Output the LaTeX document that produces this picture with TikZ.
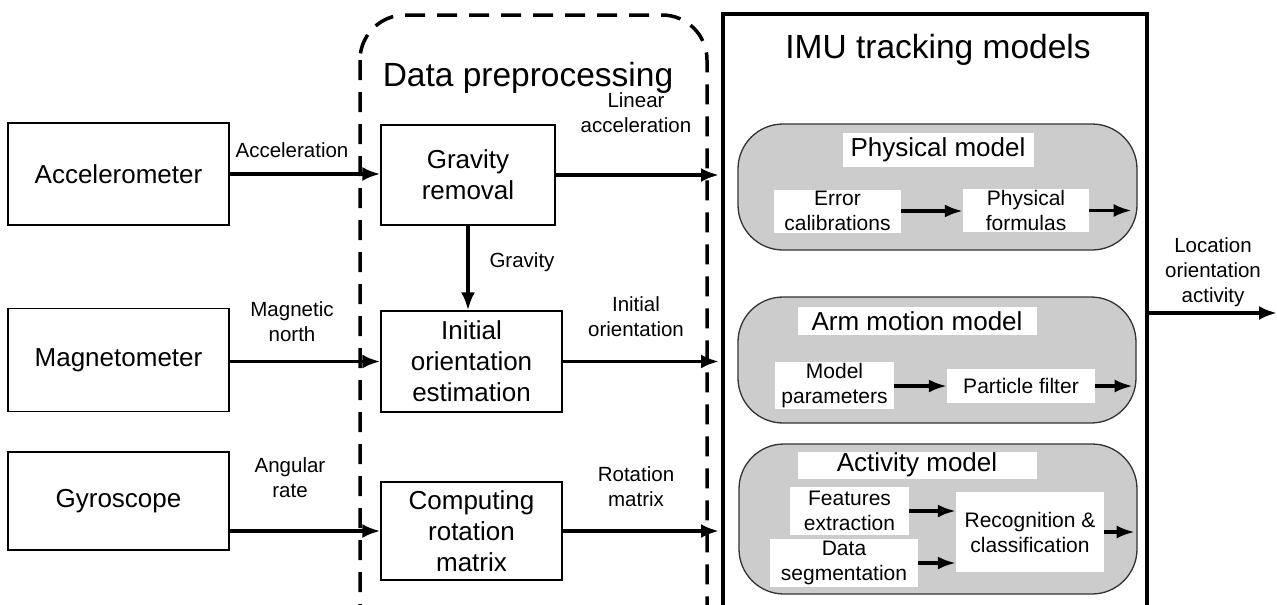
\documentclass[tikz,border=0pt]{standalone}
\usepackage{fontspec}
\setmainfont{Liberation Sans}
\usetikzlibrary{arrows.meta}
\definecolor{modelgray}{RGB}{204,204,204}
\tikzset{
  sensor/.style={draw, line width=1.3pt, fill=white, inner sep=0pt, align=center, font=\fontsize{26}{31}\selectfont},
  model/.style={draw=black!80, line width=1.3pt, fill=modelgray, rounded corners=45pt, inner sep=0pt},
  head/.style={fill=white, inner sep=0pt, font=\fontsize{26}{31}\selectfont},
  sub/.style={fill=white, inner sep=0pt, align=center, font=\fontsize{21}{25}\selectfont},
  lbl/.style={align=center, inner sep=0pt, font=\fontsize{20.5}{25}\selectfont},
  title/.style={anchor=base, inner sep=0pt, font=\fontsize{33.5}{40}\selectfont},
  arr/.style={-{Latex[length=18pt,width=14pt]}, line width=3.6pt},
  subarr/.style={-{Latex[length=18pt,width=13pt]}, line width=3.2pt}
}
\begin{document}
\begin{tikzpicture}[x=1pt, y={(0pt,-1pt)}]
  \useasboundingbox (0,0) rectangle (1277,605);
  \clip (0,0) rectangle (1277,605);
  % Preprocessing frame
  \draw[line width=3.5pt, dash pattern=on 20pt off 12pt, rounded corners=45pt] (360,15) rectangle (707,680);
  \node[title] at (528,86) {Data preprocessing};
  % IMU tracking frame
  \node[draw, line width=4pt, minimum width=424pt, minimum height=686pt, inner sep=0pt] (imu) at (935,357) {};
  \node[title] at (938,58) {IMU tracking models};
  % Sensors
  \node[sensor, minimum width=221pt, minimum height=102pt] (acc) at (118.5,174) {Accelerometer};
  \node[sensor, minimum width=221pt, minimum height=103pt] (mag) at (118.5,360) {Magnetometer};
  \node[sensor, minimum width=221pt, minimum height=98pt] (gyro) at (118.5,501) {Gyroscope};
  % Preprocessing steps
  \node[sensor, minimum width=174pt, minimum height=100pt] (grav) at (468,175) {Gravity\\removal};
  \node[sensor, minimum width=181pt, minimum height=101pt] (init) at (471.5,361.5) {Initial\\orientation\\estimation};
  \node[sensor, minimum width=181pt, minimum height=98pt] (comp) at (471.5,531) {Computing\\rotation\\matrix};
  % Models
  \node[model, minimum width=399pt, minimum height=126pt] (phys) at (937.5,187) {};
  \node[model, minimum width=398pt, minimum height=126pt] (arm) at (937,360) {};
  \node[model, minimum width=398pt, minimum height=150pt] (act) at (938,519) {};
  \node[head, minimum width=191pt, minimum height=34pt] (physhead) at (938,150) {Physical model};
  \node[head, minimum width=239pt, minimum height=28pt] (armhead) at (917,321) {Arm motion model};
  \node[head, minimum width=239pt, minimum height=27pt] (acthead) at (917,465) {Activity model};
  \node[sub, minimum width=127pt, minimum height=43pt] (err) at (837.5,211) {Error\\calibrations};
  \node[sub, minimum width=126pt, minimum height=43pt] (pform) at (1026,210.5) {Physical\\formulas};
  \node[sub, minimum width=119pt, minimum height=47pt] (mpar) at (834.5,385.5) {Model\\parameters};
  \node[sub, minimum width=148pt, minimum height=34pt] (pfil) at (1021,386) {Particle filter};
  \node[sub, minimum width=119pt, minimum height=48pt] (feat) at (849.5,511) {Features\\extraction};
  \node[sub, minimum width=148pt, minimum height=48pt] (dseg) at (844,563) {Data\\segmentation};
  \node[sub, minimum width=148pt, minimum height=80pt] (recog) at (1030,532) {Recognition \&\\classification};
  % Sensor outputs
  \draw[arr] (acc.east) -- (acc.east -| grav.west);
  \draw[arr] (mag.east |- init.west) -- (init.west);
  \draw[arr] (gyro.east |- comp.west) -- (comp.west);
  \node[lbl] (acclbl) at (292,150) {Acceleration};
  \node[lbl] (maglbl) at (292,322) {Magnetic\\north};
  \node[lbl] (gyrolbl) at (290,478) {Angular\\rate};
  % Preprocessing outputs
  \draw[arr] (grav.south) -- (grav.south |- init.north);
  \node[lbl] (gravlbl) at (522,262) {Gravity};
  \draw[arr, shorten >=2pt] (grav.east) -- (grav.east -| imu.west);
  \draw[arr, shorten >=2pt] (init.east) -- (init.east -| imu.west);
  \draw[arr, shorten >=2pt] (comp.east) -- (comp.east -| imu.west);
  \node[lbl] (linlbl) at (636,113) {Linear\\acceleration};
  \node[lbl] (inilbl) at (636,317) {Initial\\orientation};
  \node[lbl] (rotlbl) at (636,487) {Rotation\\matrix};
  % Model internals
  \draw[subarr] (err.east) -- (err.east -| pform.west);
  \draw[subarr, shorten >=6pt] (pform.east) -- (pform.east -| phys.east);
  \draw[subarr] (mpar.east |- pfil.west) -- (pfil.west);
  \draw[subarr, shorten >=4pt] (pfil.east) -- (pfil.east -| arm.east);
  \draw[subarr] (feat.east) -- (feat.east -| recog.west);
  \draw[subarr] (dseg.east) -- (dseg.east -| recog.west);
  \draw[subarr, shorten >=3pt] (recog.east) -- (recog.east -| act.east);
  % Final output
  \coordinate (out) at (1277,313);
  \draw[arr] (imu.east |- out) -- (out);
  \node[lbl] (outlbl) at (1213,272) {Location\\orientation\\activity};
\end{tikzpicture}
\end{document}
